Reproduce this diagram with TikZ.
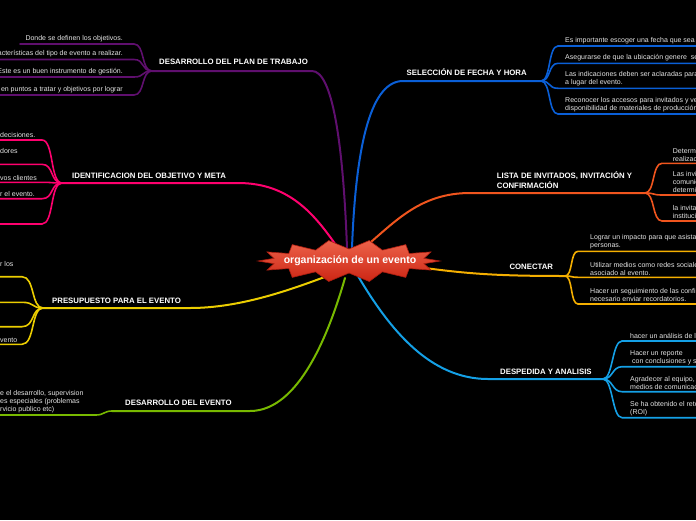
\documentclass[tikz,border=0pt]{standalone}
\usepackage{fontspec}
\setmainfont{Liberation Sans}
\definecolor{cP}{RGB}{95,15,110}
\definecolor{cK}{RGB}{255,0,110}
\definecolor{cY}{RGB}{235,205,0}
\definecolor{cG}{RGB}{120,185,0}
\definecolor{cB}{RGB}{10,95,215}
\definecolor{cO}{RGB}{240,85,30}
\definecolor{cA}{RGB}{245,175,0}
\definecolor{cL}{RGB}{20,160,230}
\definecolor{leafgray}{RGB}{228,228,228}
\definecolor{starTop}{RGB}{236,98,74}
\definecolor{starBot}{RGB}{205,38,20}
\definecolor{starEdge}{RGB}{170,28,15}
\begin{document}
\begin{tikzpicture}[x=1pt,y=-1pt,
  leaf/.style={inner sep=0pt, text=leafgray, font=\fontsize{7}{8}\selectfont, align=left},
  topic/.style={inner sep=0pt, text=white, font=\fontsize{7.8}{9.6}\selectfont\bfseries, align=left},
  br/.style={line width=2pt, line cap=round},
  lf/.style={line width=1.6pt, line cap=round}]
\useasboundingbox (0,0) rectangle (696,520);
\fill[black] (0,0) rectangle (696,520);
\clip (0,0) rectangle (696,520);

% ---------- purple: DESARROLLO DEL PLAN DE TRABAJO
\coordinate (p0) at (347,248);
\coordinate (p1) at (312,71);
\coordinate (pf) at (152,71);
\draw[br,cP] (p0) .. controls (343,140) and (332,71) .. (p1) -- (pf);
\node[topic, anchor=south west] (tP) at (159,65.2) {DESARROLLO DEL PLAN DE TRABAJO};
\coordinate (pa1) at (20,44);   \coordinate (pa2) at (134,44);
\coordinate (pb1) at (-5,59.5); \coordinate (pb2) at (134,59.5);
\coordinate (pc1) at (-5,77);   \coordinate (pc2) at (134,77);
\coordinate (pd1) at (-5,95);   \coordinate (pd2) at (134,95);
\draw[lf,cP] (pa1) -- (pa2) .. controls (145,44) and (141,71) .. (pf);
\draw[lf,cP] (pb1) -- (pb2) .. controls (145,59.5) and (141,71) .. (pf);
\draw[lf,cP] (pc1) -- (pc2) .. controls (145,77) and (141,71) .. (pf);
\draw[lf,cP] (pd1) -- (pd2) .. controls (145,95) and (141,71) .. (pf);
\node[leaf, anchor=south east] (pa) at (123,42) {Donde se definen los objetivos.};
\node[leaf, anchor=south east] (pb) at (123,57.5) {acterísticas del tipo de evento a realizar.};
\node[leaf, anchor=south east] (pc) at (123,75) {Este es un buen instrumento de gestión.};
\node[leaf, anchor=south east] (pd) at (123,93) {en puntos a tratar y objetivos por lograr};

% ---------- pink: IDENTIFICACION DEL OBJETIVO Y META
\coordinate (k0) at (338,248);
\coordinate (k1) at (238,183);
\coordinate (kf) at (62,183);
\draw[br,cK] (k0) .. controls (315,215) and (290,183) .. (k1) -- (kf);
\node[topic, anchor=south west] (tK) at (72,178.6) {IDENTIFICACION DEL OBJETIVO Y META};
\foreach \yy in {140,164.3,182.3,198.7,224}{
  \draw[lf,cK] (-5,\yy) -- (42,\yy) .. controls (54,\yy) and (50,183) .. (kf);
}
\node[leaf, anchor=south west] (ka) at (0,138) {decisiones.};
\node[leaf, anchor=south west] (kb) at (0,154) {dores};
\node[leaf, anchor=south west] (kc) at (0,180.3) {vos clientes};
\node[leaf, anchor=south west] (kd) at (0,196.7) {r el evento.};

% ---------- yellow: PRESUPUESTO PARA EL EVENTO
\coordinate (y0) at (330,275);
\coordinate (y1) at (190,308);
\coordinate (yf) at (43,308);
\draw[br,cY] (y0) .. controls (290,290) and (240,308) .. (y1) -- (yf);
\node[topic, anchor=south west] (tY) at (52,303.6) {PRESUPUESTO PARA EL EVENTO};
\foreach \yy in {276.7,302.3,326.7,344.3}{
  \draw[lf,cY] (-5,\yy) -- (22,\yy) .. controls (35,\yy) and (31,308) .. (yf);
}
\node[leaf, anchor=south west] (ya) at (0,266.7) {r los};
\node[leaf, anchor=south west] (yd) at (0,342.3) {vento};

% ---------- green: DESARROLLO DEL EVENTO
\coordinate (g0) at (345,278);
\coordinate (g1) at (250,411);
\coordinate (gf) at (112,411);
\draw[br,cG] (g0) .. controls (330,330) and (300,411) .. (g1) -- (gf);
\node[topic, anchor=south west] (tG) at (125,405.6) {DESARROLLO DEL EVENTO};
\draw[lf,cG] (-5,415) -- (96,415) .. controls (104,415) and (104,411) .. (gf);
\node[leaf, anchor=south west] (ga) at (0,413) {e el desarrollo, supervision\\es especiales (problemas\\rvicio publico etc)};

% ---------- blue: SELECCIÓN DE FECHA Y HORA
\coordinate (b0) at (352,248);
\coordinate (b1) at (403,81);
\coordinate (bf) at (541,81);
\draw[br,cB] (b0) .. controls (356,140) and (372,81) .. (b1) -- (bf);
\node[topic, anchor=south west] (tB) at (406.5,76.2) {SELECCIÓN DE FECHA Y HORA};
\foreach \yy in {46,63.3,88.3,114}{
  \draw[lf,cB] (bf) .. controls (551,81) and (548,\yy) .. (558,\yy) -- (705,\yy);
}
\node[leaf, anchor=south west] (ba) at (565,44) {Es importante escoger una fecha que sea conveniente};
\node[leaf, anchor=south west] (bb) at (565,61.3) {Asegurarse de que la ubicación genere~ seguridad};
\node[leaf, anchor=south west] (bc) at (565,86.3) {Las indicaciones deben ser aclaradas para llegar\\a lugar del evento.};
\node[leaf, anchor=south west] (bd) at (565,112) {Reconocer los accesos para invitados y verificar la\\disponibilidad de materiales de producción.};

% ---------- orange: LISTA DE INVITADOS
\coordinate (o0) at (365,247);
\coordinate (o1) at (470,193);
\coordinate (of) at (645,193);
\draw[br,cO] (o0) .. controls (395,222) and (420,193) .. (o1) -- (of);
\node[topic, anchor=south west] (tO) at (496.7,188.6) {LISTA DE INVITADOS, INVITACIÓN Y\\CONFIRMACIÓN};
\foreach \yy in {163.3,195,221}{
  \draw[lf,cO] (of) .. controls (655,193) and (652,\yy) .. (662,\yy) -- (705,\yy);
}
\node[leaf, anchor=south west] (oa) at (672.7,161.3) {Determinar el número de invitados\\realización del evento.};
\node[leaf, anchor=south west] (ob) at (672.7,193) {Las invitaciones deben\\comunicar la información\\determinada.};
\node[leaf, anchor=south west] (oc) at (672.7,219) {la invitación debe llevar el logo\\institución.};

% ---------- amber: CONECTAR
\coordinate (a0) at (425,268);
\coordinate (af) at (565,276);
\draw[br,cA] (a0) .. controls (470,274) and (500,276) .. (af);
\node[topic, anchor=south west] (tA) at (509.3,270.2) {CONECTAR};
\foreach \yy in {251.3,277.3,304}{
  \draw[lf,cA] (af) .. controls (573,276) and (570,\yy) .. (578,\yy) -- (705,\yy);
}
\node[leaf, anchor=south west] (aa) at (590,249.3) {Lograr un impacto para que asistan las\\personas.};
\node[leaf, anchor=south west] (ab) at (590,275.3) {Utilizar medios como redes sociales para todo lo\\asociado al evento.};
\node[leaf, anchor=south west] (ac) at (590,302) {Hacer un seguimiento de las confirmaciones, es\\necesario enviar recordatorios.};

% ---------- light blue: DESPEDIDA Y ANALISIS
\coordinate (l0) at (358,276);
\coordinate (l1) at (488,379);
\coordinate (lfan) at (603,379);
\draw[br,cL] (l0) .. controls (390,330) and (430,379) .. (l1) -- (lfan);
\node[topic, anchor=south west] (tL) at (500,375.2) {DESPEDIDA Y ANALISIS};
\foreach \yy in {341,366.7,391.7,417.7}{
  \draw[lf,cL] (lfan) .. controls (613,379) and (612,\yy) .. (622,\yy) -- (705,\yy);
}
\node[leaf, anchor=south west] (la) at (630,339) {hacer un análisis de los resultados};
\node[leaf, anchor=south west] (lb) at (630,364.7) {Hacer un reporte\\\ con conclusiones y sugerencias};
\node[leaf, anchor=south west] (lc) at (630,389.7) {Agradecer al equipo, patrocinadores y\\medios de comunicación.};
\node[leaf, anchor=south west] (ld) at (630,415.7) {Se ha obtenido el retorno de la inversión\\(ROI)};

% ---------- central star
\path[draw=starEdge, line width=0.6pt, top color=starTop, bottom color=starBot]
  plot[variable=\i, samples at={0,...,27}]
  ({349+(84+7*cos(180*\i))*cos(\i*360/28)}, {261+(16.5+4.5*cos(180*\i))*sin(\i*360/28)}) -- cycle;
\node[inner sep=0pt, text=white, font=\fontsize{10.5}{12}\selectfont\bfseries] (root) at (350,260.5) {organización de un evento};
\end{tikzpicture}
\end{document}
